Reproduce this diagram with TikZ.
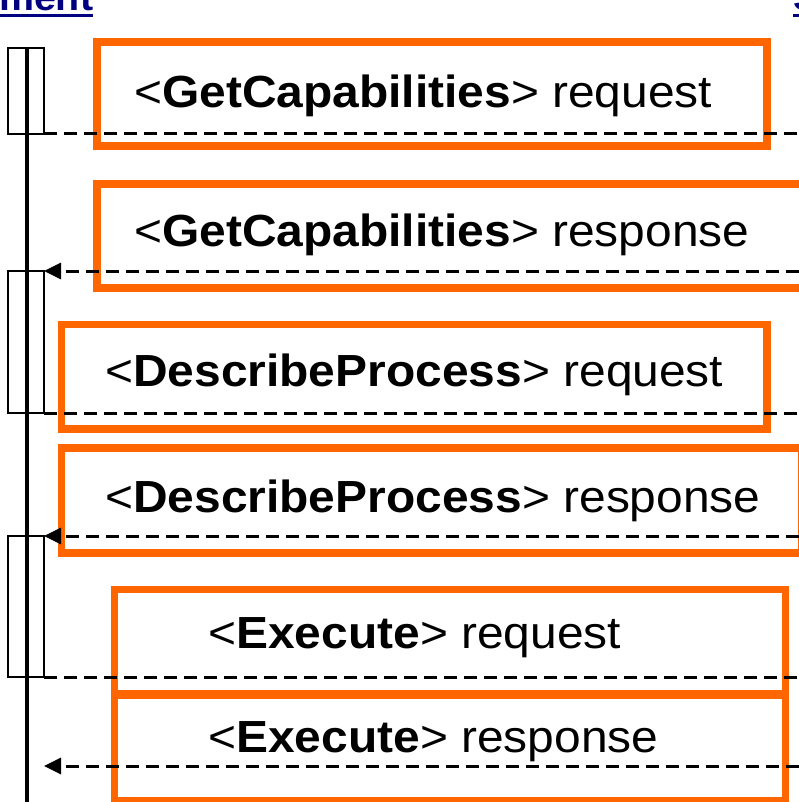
\documentclass[tikz,border=0pt]{standalone}
\usepackage{fontspec}
\setmainfont{Liberation Sans}
\newfontfamily\msgfont[FakeStretch=1.065]{Liberation Sans}
\usetikzlibrary{arrows.meta}
\definecolor{msgorange}{HTML}{FF6600}
\definecolor{headblue}{HTML}{000080}
\tikzset{
  actbox/.style={draw=black, line width=1.6pt, fill=white, minimum width=36pt, inner sep=0pt, outer sep=0pt},
  lifeline/.style={line width=4pt},
  msgline/.style={line width=3pt, dash pattern=on 13pt off 7pt},
  reply/.style={msgline, -{Triangle[length=17pt,width=16pt]}},
  callout/.style={draw=msgorange, line width=7.5pt},
  msgtext/.style={anchor=base west, inner sep=0pt, font=\msgfont\fontsize{45}{50}\selectfont},
  headtext/.style={anchor=base west, inner sep=0pt, outer sep=0pt, text=headblue, font=\msgfont\bfseries\fontsize{37}{42}\selectfont},
  headrule/.style={draw=headblue, line width=3pt}
}
\begin{document}
\begin{tikzpicture}[x=1pt,y=-1pt]
\useasboundingbox (0,0) rectangle (799,802);
\clip (0,0) rectangle (799,802);

% header labels of the two participants, underlined like links
\node[headtext] (client) at (-1,11) {ment};
\node[headtext] (server) at (793,11) {S};
\draw[headrule] ([yshift=-4.5pt]client.base west) -- ([yshift=-4.5pt]client.base east);
\draw[headrule] ([yshift=-4.5pt]server.base west) -- ([yshift=-4.5pt]server.base east);

% activation bars on the client lifeline
\node[actbox, minimum height=86pt, anchor=north west] (act1) at (8,48) {};
\node[actbox, minimum height=142pt, anchor=north west] (act2) at (8,271) {};
\node[actbox, minimum height=141pt, anchor=north west] (act3) at (8,536) {};
\coordinate (lifetop) at (27,48);
\coordinate (lifebot) at (27,802);
\draw[lifeline] (lifetop) -- (lifebot);

% right-hand ends of the messages
\coordinate (r1) at (799,134);
\coordinate (r2) at (799,271);
\coordinate (r3) at (799,413);
\coordinate (r4) at (799,536);
\coordinate (r5) at (799,677);
\coordinate (r6) at (799,766);
\coordinate (l6) at (44,766);

% orange callouts around the message labels
\draw[callout] (97,42) rectangle (767,146);
\draw[callout] (97,184) rectangle (806,288);
\draw[callout] (61.5,324.5) rectangle (767,429);
\draw[callout] (61.5,448) rectangle (802,553);
\draw[callout] (114.5,589.5) rectangle (785.5,694);
\draw[callout] (114.5,695) rectangle (785.5,801);

% messages
\draw[msgline] (act1.south east) -- (r1);
\draw[reply] (r2) -- (act2.north east);
\draw[msgline] (act2.south east) -- (r3);
\draw[reply] (r4) -- (act3.north east);
\draw[msgline] (act3.south east) -- (r5);
\draw[reply] (r6) -- (l6);

% message labels
\node[msgtext] (t1) at (134,108) {<\textbf{GetCapabilities}> request};
\node[msgtext] (t2) at (134,246) {<\textbf{GetCapabilities}> response};
\node[msgtext] (t3) at (105,386) {<\textbf{DescribeProcess}> request};
\node[msgtext] (t4) at (105,512) {<\textbf{DescribeProcess}> response};
\node[msgtext] (t5) at (208,648) {<\textbf{Execute}> request};
\node[msgtext] (t6) at (208,752) {<\textbf{Execute}> response};
\end{tikzpicture}
\end{document}
